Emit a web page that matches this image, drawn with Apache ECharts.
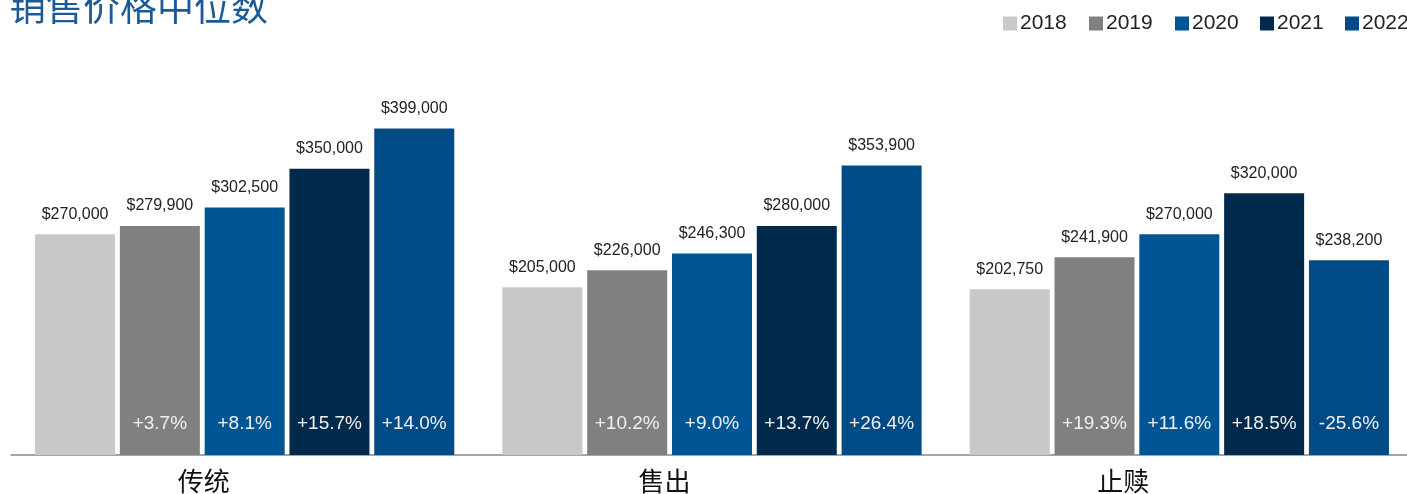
<!DOCTYPE html>
<html>
<head>
<meta charset="utf-8">
<script src="https://cdn.jsdelivr.net/npm/echarts@6/dist/echarts.min.js"></script>
<style>html,body{margin:0;padding:0;background:#fff;overflow:hidden;}#c{width:1413px;height:494px;}</style>
</head>
<body>
<div id="c"></div>
<script>
const categories = ['传统', '售出', '止赎'];
const years = ['2018', '2019', '2020', '2021', '2022'];
const v2018 = [270000, 205000, 202750];
const v2019 = [279900, 226000, 241900];
const v2020 = [302500, 246300, 270000];
const v2021 = [350000, 280000, 320000];
const v2022 = [399000, 353900, 238200];
const p2018 = ['', '', ''];
const p2019 = ['+3.7%', '+10.2%', '+19.3%'];
const p2020 = ['+8.1%', '+9.0%', '+11.6%'];
const p2021 = ['+15.7%', '+13.7%', '+18.5%'];
const p2022 = ['+14.0%', '+26.4%', '-25.6%'];
const titleText = '销售价格中位数';

const values = [v2018, v2019, v2020, v2021, v2022];
const pcts = [p2018, p2019, p2020, p2021, p2022];
const colors = ['#c8c8c8', '#808080', '#005595', '#002a4c', '#004a85'];
const fontLatin = '"Liberation Sans", Arial, Helvetica, sans-serif';
const fontCJK = '"Noto Sans CJK SC", "Liberation Sans", sans-serif';

const series = [];
years.forEach((y, i) => {
  series.push({
    name: y,
    type: 'bar',
    xAxisIndex: 0,
    yAxisIndex: 0,
    barWidth: 80,
    barGap: '6%',
    data: values[i],
    itemStyle: { color: colors[i] },
    label: {
      show: true,
      position: 'top',
      distance: 12,
      color: '#222',
      fontSize: 16,
      fontFamily: fontLatin,
      formatter: p => '$' + p.value.toLocaleString('en-US')
    },
    emphasis: { disabled: true }
  });
});
years.forEach((y, i) => {
  series.push({
    name: y + '_pct',
    type: 'bar',
    xAxisIndex: 1,
    yAxisIndex: 0,
    barWidth: 80,
    barGap: '6%',
    data: values[i],
    itemStyle: { color: 'rgba(0,0,0,0)' },
    label: {
      show: true,
      position: 'insideBottom',
      distance: 22,
      color: '#f0f0f0',
      fontSize: 19,
      fontFamily: fontLatin,
      formatter: p => pcts[i][p.dataIndex]
    },
    silent: true,
    emphasis: { disabled: true }
  });
});

const legendX = [1003, 1089, 1175, 1260, 1345];
const legends = years.map((y, i) => ({
  data: [y],
  left: legendX[i],
  top: 13,
  padding: 0,
  itemWidth: 14,
  itemHeight: 14,
  icon: 'rect',
  textStyle: { color: '#222', fontSize: 21, fontFamily: fontLatin, padding: [0, 0, 0, -2] }
}));

const labelShift = [82, 95, 112];
const rich = {};
labelShift.forEach((s, i) => {
  rich['c' + i] = { color: '#111', fontSize: 26, fontFamily: fontCJK, padding: [0, s, 0, 0] };
});

const chart = echarts.init(document.getElementById('c'), null, { renderer: 'canvas' });
chart.setOption({
  animation: false,
  backgroundColor: '#fff',
  title: {
    text: titleText,
    left: 9,
    top: -12,
    padding: 0,
    textStyle: { color: '#1b5a96', fontSize: 37, fontWeight: 'normal', fontFamily: fontCJK }
  },
  legend: legends,
  grid: { left: 11, right: 0, top: 46, bottom: 39, containLabel: false },
  xAxis: [
    {
      type: 'category',
      data: categories,
      axisLine: { show: true, lineStyle: { color: '#888', width: 1.5 } },
      axisTick: { show: false },
      axisLabel: {
        color: '#111',
        fontSize: 26,
        fontFamily: fontCJK,
        margin: 13,
        formatter: (v, idx) => '{c' + idx + '|' + v + '}',
        rich: rich
      }
    },
    {
      type: 'category',
      data: categories,
      show: false
    }
  ],
  yAxis: {
    type: 'value',
    min: 0,
    max: 500000,
    show: false,
    splitLine: { show: false }
  },
  series: series
});
</script>
</body>
</html>
